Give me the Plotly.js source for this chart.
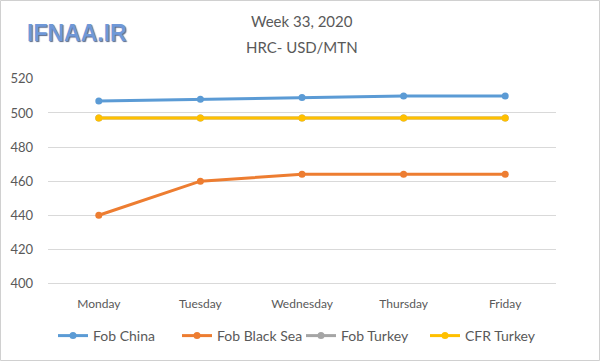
<!DOCTYPE html>
<html><head><meta charset="utf-8">
<script src="https://cdn.plot.ly/plotly-3.0.1.min.js"></script>
<style>html,body{margin:0;padding:0;background:#fff}#chart{width:600px;height:361px}</style>
</head><body><div id="chart"></div>
<script>
const days = ["Monday","Tuesday","Wednesday","Thursday","Friday"];
const fobChina = [507, 508, 509, 510, 510];
const fobBlackSea = [440, 460, 464, 464, 464];
const fobTurkey = [497, 497, 497, 497, 497];
const cfrTurkey = [497, 497, 497, 497, 497];
const yTicks = [400, 420, 440, 460, 480, 500, 520];

function tr(name, y, color){
  return {x: days, y: y, name: name, type: 'scatter', mode: 'lines+markers',
    line: {color: color, width: 3}, marker: {color: color, size: 7}};
}
const data = [
  tr('Fob China', fobChina, '#5b9bd5'),
  tr('Fob Black Sea', fobBlackSea, '#ed7d31'),
  tr('Fob Turkey', fobTurkey, '#a5a5a5'),
  tr('CFR Turkey', cfrTurkey, '#ffc000')
];
const plotW = 600 - 48 - 44, plotH = 361 - 78 - 75;
const layout = {
  width: 600, height: 361,
  margin: {l: 48, r: 44, t: 78, b: 75, autoexpand: false},
  paper_bgcolor: '#fff', plot_bgcolor: '#fff',
  font: {family: 'Lato, Open Sans, sans-serif', color: '#595959', size: 13},
  showlegend: true,
  legend: {orientation: 'h', xref: 'container', yref: 'container', x: 53/600, xanchor: 'left',
    y: 25/361, yanchor: 'middle', entrywidth: 79, entrywidthmode: 'pixels',
    font: {size: 14, color: '#595959'}, tracegroupgap: 0},
  xaxis: {type: 'category', range: [-0.5, 4.5], showgrid: false, zeroline: false, automargin: false,
    showline: false, ticks: '', tickfont: {size: 12, color: '#595959'}, ticklabelstandoff: 9},
  yaxis: {range: [398.5, 520.5], tickvals: yTicks, showgrid: true, gridcolor: '#d9d9d9', automargin: false,
    gridwidth: 1, zeroline: false, showline: false, ticks: '',
    tickfont: {size: 13, color: '#595959'}, ticklabelstandoff: 14},
  annotations: [
    {text: 'Week 33, 2020', xref: 'paper', yref: 'paper', x: 0.5 , y: 1, xanchor: 'center',
      yanchor: 'middle', yshift: 57, showarrow: false, font: {size: 15, color: '#595959'}},
    {text: 'HRC- USD/MTN', xref: 'paper', yref: 'paper', x: 0.5, y: 1, xanchor: 'center',
      yanchor: 'middle', yshift: 31, showarrow: false, font: {size: 15, color: '#595959'}},
    {text: '<b>IFNAA.IR</b>', xref: 'paper', yref: 'paper', x: 0, y: 1, xanchor: 'left',
      yanchor: 'middle', xshift: -23, yshift: 45, showarrow: false,
      font: {size: 23, color: '#6f98d8', family: 'Liberation Sans, Arial, sans-serif',
        shadow: '1px 1px 1px #5a6a8a'}}
  ],
  shapes: [
    {type: 'rect', xref: 'paper', yref: 'paper', x0: -47.5/plotW, x1: 1 + 43.5/plotW,
      y0: -74.5/plotH, y1: 1 + 77.5/plotH, line: {color: '#d0d0d0', width: 1}}
  ]
};
Plotly.newPlot('chart', data, layout, {displayModeBar: false, staticPlot: true});
</script></body></html>
